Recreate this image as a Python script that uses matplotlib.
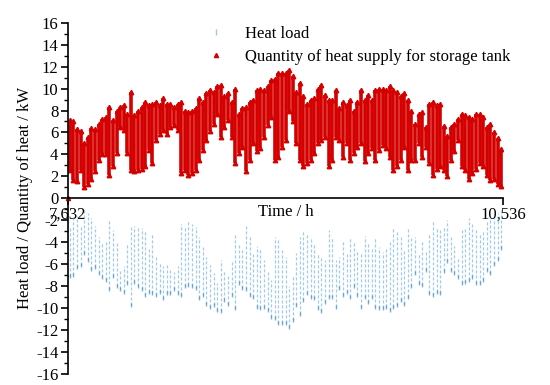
import numpy as np
import matplotlib
matplotlib.use('Agg')
import matplotlib.pyplot as plt
from matplotlib.ticker import MultipleLocator, FixedLocator

# hourly simulation from hour 7632 to 10536 -> 121 days, one daily max / min per day
t_start = 7632
t_end = 10536

# daily maximum of heat supply for storage tank (kW)
supply_hi = [7.1, 7.0, 6.3, 6.1, 5.0, 5.6, 6.4, 6.3, 6.8, 7.2,
             7.4, 8.3, 7.1, 8.0, 8.3, 8.5, 7.7, 9.7, 7.6, 8.0,
             8.3, 8.8, 8.5, 8.6, 8.8, 8.5, 9.1, 8.6, 8.6, 8.3,
             8.6, 8.8, 8.0, 7.9, 8.0, 8.2, 9.1, 8.8, 9.6, 9.9,
             9.7, 10.2, 10.3, 9.3, 9.6, 8.8, 10.0, 7.7, 8.2, 8.3,
             8.8, 9.0, 9.9, 10.0, 9.9, 10.2, 10.8, 10.9, 11.4, 11.4,
             11.4, 11.7, 11.1, 9.7, 10.5, 9.3, 8.6, 9.0, 9.1, 10.0,
             10.3, 9.4, 9.0, 9.0, 9.9, 8.2, 8.8, 8.5, 9.0, 8.0,
             8.8, 9.9, 9.0, 9.4, 9.0, 9.9, 10.0, 10.0, 9.9, 10.2,
             9.9, 9.7, 9.3, 9.6, 9.0, 8.0, 6.8, 7.7, 7.9, 6.5,
             8.6, 8.8, 8.5, 8.6, 6.6, 5.7, 6.5, 6.8, 7.2, 7.7,
             7.6, 7.4, 7.2, 7.7, 7.7, 7.4, 6.5, 6.8, 6.0, 5.5,
             4.5]
# daily minimum of heat supply for storage tank (kW)
supply_lo = [2.6, 1.7, 1.6, 2.6, 1.0, 1.3, 1.8, 2.5, 3.5, 4.0,
             4.0, 2.1, 2.9, 4.1, 6.5, 6.2, 4.1, 2.6, 2.5, 2.6,
             2.7, 2.9, 4.4, 3.2, 5.3, 5.9, 6.2, 5.9, 6.5, 6.7,
             6.2, 2.3, 2.6, 2.1, 2.3, 2.6, 3.5, 4.4, 5.3, 6.1,
             6.8, 7.7, 5.6, 6.5, 7.1, 5.6, 3.2, 4.1, 4.7, 2.5,
             3.5, 5.0, 4.3, 4.6, 5.6, 6.7, 7.4, 3.5, 3.8, 4.7,
             5.3, 8.0, 7.0, 5.0, 3.5, 2.9, 3.2, 3.5, 4.1, 5.0,
             5.3, 5.6, 2.9, 3.5, 5.6, 5.3, 3.8, 5.0, 3.5, 4.1,
             4.7, 5.0, 3.4, 4.1, 4.6, 3.5, 4.4, 4.9, 4.6, 3.8,
             2.6, 2.9, 3.5, 4.7, 2.6, 3.5, 3.5, 5.0, 3.8, 4.7,
             3.2, 2.1, 2.7, 2.9, 2.6, 2.0, 3.5, 4.3, 5.3, 2.9,
             2.6, 1.8, 2.3, 2.7, 3.2, 2.9, 2.1, 1.7, 1.8, 1.3,
             1.1]

# heat load, drawn below zero (kW)
load_top = [-2.6, -1.7, -1.6, -2.6, -1.0, -1.3, -1.8, -2.5, -3.5, -4.0,
            -4.0, -2.1, -2.9, -4.1, -6.5, -6.2, -4.1, -2.6, -2.5, -2.6,
            -2.7, -2.9, -4.4, -3.2, -5.3, -5.9, -6.2, -5.9, -6.5, -6.7,
            -6.2, -2.3, -2.6, -2.1, -2.3, -2.6, -3.5, -4.4, -5.3, -6.1,
            -6.8, -7.7, -5.6, -6.5, -7.1, -5.6, -3.2, -4.1, -4.7, -2.5,
            -3.5, -5.0, -4.3, -4.6, -5.6, -6.7, -7.4, -3.5, -3.8, -4.7,
            -5.3, -8.0, -7.0, -5.0, -3.5, -2.9, -3.2, -3.5, -4.1, -5.0,
            -5.3, -5.6, -2.9, -3.5, -5.6, -5.3, -3.8, -5.0, -3.5, -4.1,
            -4.7, -5.0, -3.4, -4.1, -4.6, -3.5, -4.4, -4.9, -4.6, -3.8,
            -2.6, -2.9, -3.5, -4.7, -2.6, -3.5, -3.5, -5.0, -3.8, -4.7,
            -3.2, -2.1, -2.7, -2.9, -2.6, -2.0, -3.5, -4.3, -5.3, -2.9,
            -2.6, -1.8, -2.3, -2.7, -3.2, -2.9, -2.1, -1.7, -1.8, -1.3,
            -1.1]
load_bottom = [-7.1, -7.0, -6.3, -6.1, -5.0, -5.6, -6.4, -6.3, -6.8, -7.2,
               -7.4, -8.3, -7.1, -8.0, -8.3, -8.5, -7.7, -9.7, -7.6, -8.0,
               -8.3, -8.8, -8.5, -8.6, -8.8, -8.5, -9.1, -8.6, -8.6, -8.3,
               -8.6, -8.8, -8.0, -7.9, -8.0, -8.2, -9.1, -8.8, -9.6, -9.9,
               -9.7, -10.2, -10.3, -9.3, -9.6, -8.8, -10.0, -7.7, -8.2, -8.3,
               -8.8, -9.0, -9.9, -10.0, -9.9, -10.2, -10.8, -10.9, -11.4, -11.4,
               -11.4, -11.7, -11.1, -9.7, -10.5, -9.3, -8.6, -9.0, -9.1, -10.0,
               -10.3, -9.4, -9.0, -9.0, -9.9, -8.2, -8.8, -8.5, -9.0, -8.0,
               -8.8, -9.9, -9.0, -9.4, -9.0, -9.9, -10.0, -10.0, -9.9, -10.2,
               -9.9, -9.7, -9.3, -9.6, -9.0, -8.0, -6.8, -7.7, -7.9, -6.5,
               -8.6, -8.8, -8.5, -8.6, -6.6, -5.7, -6.5, -6.8, -7.2, -7.7,
               -7.6, -7.4, -7.2, -7.7, -7.7, -7.4, -6.5, -6.8, -6.0, -5.5,
               -4.5]

x_ticks = [7632, 10536]
x_tick_labels = ['7,632', '10,536']

days = np.arange(len(supply_hi))
t_day = t_start + 24 * days + 12

plt.rcParams['font.family'] = ['Liberation Serif', 'DejaVu Serif']
plt.rcParams['font.size'] = 12

fig = plt.figure(figsize=(5.5, 3.85), dpi=100)
ax = fig.add_axes([0.1236, 0.0286, 0.791, 0.9125])

red = '#d40000'
blue = '#5aa2d6'

# heat load (light blue dashes)
ax.vlines(t_day, load_bottom, load_top, colors=blue, linewidth=0.9,
          linestyles=(0, (2.5, 1.5)), alpha=0.55)
ax.plot(t_day, load_bottom, ls='none', marker='|', ms=3, color='#2d7fc0', alpha=0.6)
ax.plot([], [], ls='none', marker='|', ms=4, color='#9cc9ea', label='Heat load')

# heat supply for storage tank (red triangles)
ax.vlines(t_day, supply_lo, supply_hi, colors=red, linewidth=2.6)
ax.plot(t_day, supply_hi, ls='none', marker='^', ms=3.2, color=red)
ax.plot(t_day, supply_lo, ls='none', marker='^', ms=3.2, color=red)
ax.plot([t_start], [0], ls='none', marker='^', ms=3, color=red,
        label='Quantity of heat supply for storage tank', clip_on=False)

ax.set_xlim(t_start, t_end)
ax.set_ylim(-16, 16)

ax.spines['top'].set_visible(False)
ax.spines['right'].set_visible(False)
ax.spines['bottom'].set_position(('data', 0))
ax.spines['left'].set_linewidth(1.2)
ax.spines['bottom'].set_linewidth(1.2)

ax.yaxis.set_minor_locator(MultipleLocator(1))
ax.set_yticks(np.arange(-16, 17, 2))
ax.set_yticklabels([str(v) for v in range(-16, 17, 2)])
ax.tick_params(axis='y', which='major', direction='out', length=5, width=1.2, pad=2)
ax.tick_params(axis='y', which='minor', direction='out', length=3, width=1.0)

ax.xaxis.set_major_locator(FixedLocator(x_ticks))
ax.set_xticklabels(x_tick_labels)
ax.tick_params(axis='x', direction='out', length=5, width=1.2, pad=1)

ax.annotate('Time / h', xy=((t_start + t_end) / 2, 0), xytext=(0, -4),
            textcoords='offset points', ha='center', va='top')
ax.set_ylabel('Heat load / Quantity of heat / kW', labelpad=2)

ax.legend(loc='upper left', bbox_to_anchor=(0.36, 0.955), bbox_transform=fig.transFigure,
          frameon=False, handlelength=1.2, handletextpad=1.1, labelspacing=0.45,
          borderpad=0, fontsize=12)

fig.savefig('out.png', dpi=100)
